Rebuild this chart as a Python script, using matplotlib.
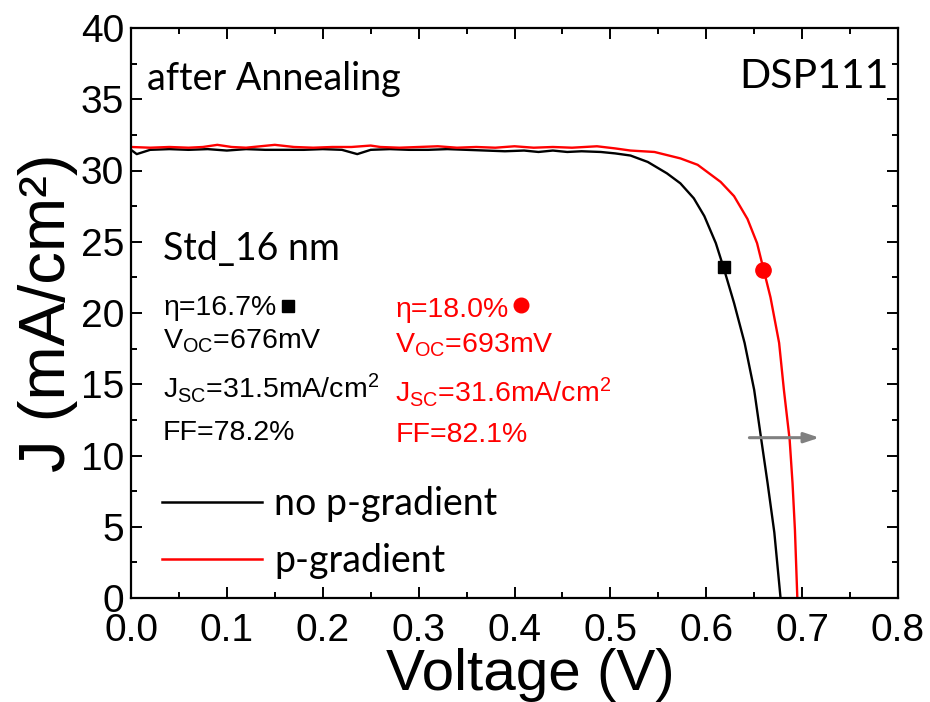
import matplotlib
matplotlib.use("Agg")
import matplotlib.pyplot as plt
from matplotlib.ticker import MultipleLocator

# J-V curves (voltage in V, current density in mA/cm^2)
v_no_grad = [0.000, 0.006, 0.020, 0.040, 0.060, 0.080, 0.100, 0.120, 0.140, 0.160,
             0.180, 0.200, 0.220, 0.236, 0.250, 0.270, 0.290, 0.310, 0.330, 0.350,
             0.370, 0.390, 0.410, 0.425, 0.440, 0.455, 0.470, 0.490, 0.505, 0.521,
             0.539, 0.559, 0.573, 0.587, 0.598, 0.610, 0.618, 0.629, 0.640, 0.650,
             0.657, 0.664, 0.671, 0.6775]
j_no_grad = [31.45, 31.15, 31.45, 31.50, 31.45, 31.50, 31.40, 31.50, 31.45, 31.45,
             31.45, 31.50, 31.45, 31.15, 31.45, 31.50, 31.45, 31.45, 31.50, 31.45,
             31.40, 31.35, 31.40, 31.30, 31.40, 31.30, 31.35, 31.30, 31.20, 31.05,
             30.60, 29.80, 29.10, 28.05, 26.80, 24.90, 23.20, 20.70, 17.90, 14.60,
             11.30, 8.05, 4.60, 0.00]

v_grad = [0.000, 0.020, 0.040, 0.060, 0.075, 0.090, 0.105, 0.120, 0.150, 0.170,
          0.190, 0.210, 0.230, 0.250, 0.260, 0.280, 0.300, 0.320, 0.340, 0.360,
          0.380, 0.400, 0.420, 0.440, 0.460, 0.486, 0.505, 0.521, 0.546, 0.573,
          0.591, 0.601, 0.615, 0.629, 0.643, 0.653, 0.660, 0.667, 0.676, 0.681,
          0.687, 0.690, 0.6925, 0.695]
j_grad = [31.65, 31.60, 31.65, 31.60, 31.65, 31.80, 31.65, 31.60, 31.80, 31.65,
          31.60, 31.65, 31.65, 31.75, 31.65, 31.60, 31.65, 31.70, 31.60, 31.65,
          31.60, 31.70, 31.60, 31.65, 31.60, 31.70, 31.55, 31.40, 31.30, 30.85,
          30.40, 29.90, 29.20, 28.20, 26.60, 24.90, 23.00, 21.10, 17.90, 14.60,
          11.10, 8.05, 4.77, 0.00]

# maximum power points
mpp_no_grad = (0.618, 23.2)
mpp_grad = (0.659, 23.0)

series_labels = ["no p-gradient", "p-gradient"]
stats_no_grad = ["η=16.7%", r"V$_{\mathregular{OC}}$=676mV",
                 r"J$_{\mathregular{SC}}$=31.5mA/cm$^{\mathregular{2}}$", "FF=78.2%"]
stats_grad = ["η=18.0%", r"V$_{\mathregular{OC}}$=693mV",
              r"J$_{\mathregular{SC}}$=31.6mA/cm$^{\mathregular{2}}$", "FF=82.1%"]

x_ticks = [0.0, 0.1, 0.2, 0.3, 0.4, 0.5, 0.6, 0.7, 0.8]
y_ticks = [0, 5, 10, 15, 20, 25, 30, 35, 40]

plt.rcParams["font.family"] = ["Liberation Sans", "DejaVu Sans"]
plt.rcParams["mathtext.fontset"] = "custom"
plt.rcParams["mathtext.rm"] = "Liberation Sans"
plt.rcParams["mathtext.it"] = "Liberation Sans"
plt.rcParams["mathtext.bf"] = "Liberation Sans"

fig = plt.figure(figsize=(9.30, 7.02), dpi=100)
ax = fig.add_axes([131 / 930, 104 / 702, 767 / 930, 570 / 702])

ax.plot(v_no_grad, j_no_grad, color="black", lw=1.7, label=series_labels[0])
ax.plot(v_grad, j_grad, color="red", lw=1.7, label=series_labels[1])
ax.plot(*mpp_no_grad, marker="s", color="black", ms=9, ls="none")
ax.plot(*mpp_grad, marker="o", color="red", ms=11, ls="none")

ax.set_xlim(0, 0.8)
ax.set_ylim(0, 40)
ax.set_xticks(x_ticks)
ax.set_yticks(y_ticks)
ax.set_xticklabels([f"{t:.1f}" for t in x_ticks])
ax.set_yticklabels([str(t) for t in y_ticks])
ax.xaxis.set_minor_locator(MultipleLocator(0.05))
ax.yaxis.set_minor_locator(MultipleLocator(2.5))
ax.tick_params(which="both", direction="in", top=True, right=True, width=1.4)
ax.tick_params(which="major", length=8, labelsize=28)
ax.tick_params(which="minor", length=4.5)
ax.tick_params(axis="x", which="major", pad=11)
ax.tick_params(axis="y", which="major", pad=5)
for s in ax.spines.values():
    s.set_linewidth(1.6)

ax.set_xlabel("Voltage (V)", fontsize=42, labelpad=-1)
ax.xaxis.label.set_x(0.52)
ax.set_ylabel("J (mA/cm²)", fontsize=47, labelpad=2)

lato = ["Lato", "DejaVu Sans"]
ax.text(0.0167, 35.65, "after Annealing", family=lato, fontsize=27.2, va="baseline")
ax.text(0.7906, 35.8, "DSP111", family=lato, fontsize=29.5, va="baseline", ha="right")
ax.text(0.0334, 23.7, "Std_16 nm", family=lato, fontsize=27, va="baseline")

black_y = [19.86, 17.54, 14.04, 11.09]
red_y = [19.72, 17.26, 13.75, 10.95]
for s, y in zip(stats_no_grad, black_y):
    ax.text(0.0334, y, s, fontsize=20.5, color="black", va="baseline")
for s, y in zip(stats_grad, red_y):
    ax.text(0.2757, y, s, fontsize=20.5, color="red", va="baseline")
ax.plot(0.1634, 20.46, marker="s", color="black", ms=8, ls="none")
ax.plot(0.4068, 20.53, marker="o", color="red", ms=10.5, ls="none")

ax.annotate("", xy=(0.718, 11.25), xytext=(0.645, 11.25),
            arrowprops=dict(arrowstyle="-|>,head_length=0.9,head_width=0.3",
                            color="#808080", lw=2.2, shrinkA=0, shrinkB=0))

leg = ax.legend(loc="center left", bbox_to_anchor=(0.0404, 0.1151), frameon=False,
                prop={"family": "Lato", "size": 27}, handlelength=2.67,
                handletextpad=0.32, borderpad=0, borderaxespad=0, labelspacing=0.56)
for h in leg.get_lines():
    h.set_linewidth(1.8)

fig.savefig("out.png", dpi=100)
